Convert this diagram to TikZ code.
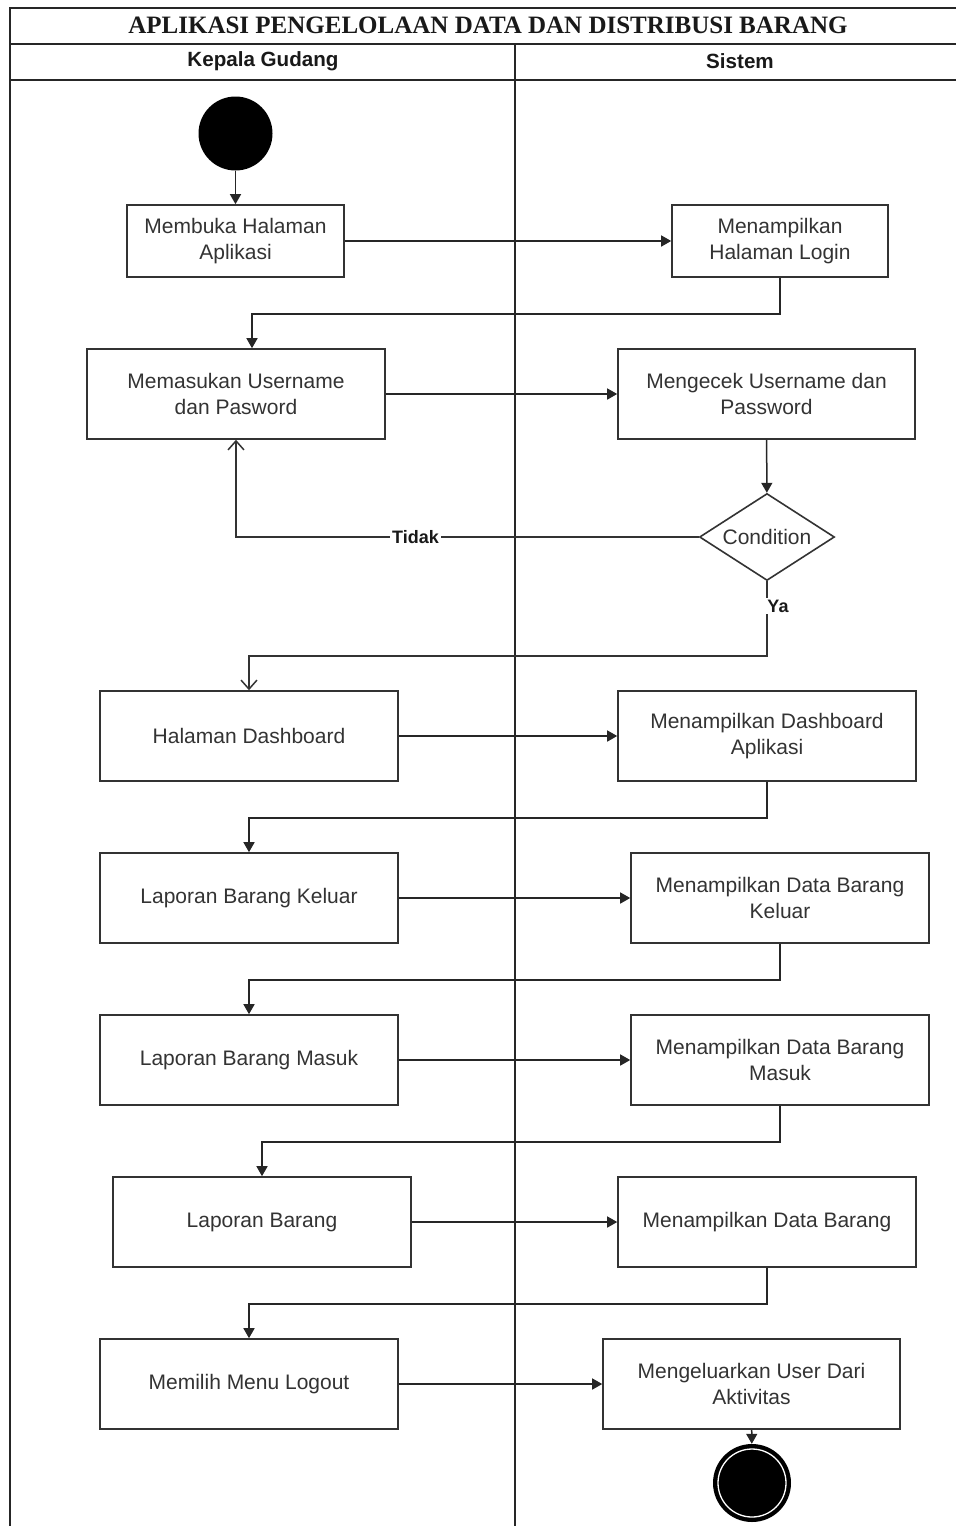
\documentclass[tikz,border=0pt]{standalone}
\usepackage{fontspec}
\setmainfont{Liberation Sans}
\newfontfamily\titlefont{Liberation Serif}
\usetikzlibrary{arrows.meta,shapes.geometric}
\definecolor{boxline}{HTML}{333333}
\definecolor{txt}{HTML}{333333}
\tikzset{
  act/.style={draw=boxline, line width=1.6pt, fill=white, text=txt, minimum height=90pt,
    align=center, font=\fontsize{21}{26}\selectfont, inner sep=0pt},
  flow/.style={line width=1.5pt, draw=black!85, -{Triangle[length=10pt,width=11pt]}},
  openflow/.style={line width=1.5pt, draw=black!80, -{Straight Barb[length=9pt,width=16pt,line width=1.5pt]}},
  lbl/.style={fill=white, text=black!90, font=\bfseries\fontsize{18}{20}\selectfont, inner sep=2pt},
  lane/.style={line width=1.5pt, draw=black!85},
  hdr/.style={font=\bfseries\fontsize{20.6}{22}\selectfont, text=black!90}
}
\begin{document}
\begin{tikzpicture}[x=1pt,y=-1pt]
\useasboundingbox (0,0) rectangle (956,1526);
% swimlanes
\draw[lane] (10,1526) -- (10,8) -- (956,8);
\draw[lane] (10,44) -- (956,44);
\draw[lane] (10,80) -- (956,80);
\draw[lane] (515,44) -- (515,1526);
\node[font=\titlefont\bfseries\fontsize{25}{28}\selectfont, text=black!90] (title) at (488,25) {APLIKASI PENGELOLAAN DATA DAN DISTRIBUSI BARANG};
\node[hdr] (h1) at (263,61) {Kepala Gudang};
\node[hdr] (h2) at (740,61) {Sistem};
% nodes
\node[circle, fill=black, minimum size=74pt, inner sep=0pt] (start) at (235.5,133.5) {};
\node[act, minimum width=217pt, minimum height=72pt] (open) at (235.5,241) {Membuka Halaman\\Aplikasi};
\node[act, minimum width=216pt, minimum height=72pt] (login) at (780,241) {Menampilkan\\Halaman Login};
\node[act, minimum width=298pt] (user) at (236,394) {Memasukan Username\\dan Pasword};
\node[act, minimum width=297pt] (cek) at (766.5,394) {Mengecek Username dan\\Password};
\node[diamond, aspect=1.55, draw=boxline, line width=1.6pt, fill=white, text=txt, minimum width=135pt, minimum height=87pt, inner sep=0pt, font=\fontsize{21}{26}\selectfont] (cond) at (767,537) {Condition};
\node[act, minimum width=298pt] (dash) at (249,736) {Halaman Dashboard};
\node[act, minimum width=298pt] (mdash) at (767,736) {Menampilkan Dashboard\\Aplikasi};
\node[act, minimum width=298pt] (kel) at (249,898) {Laporan Barang Keluar};
\node[act, minimum width=298pt] (mkel) at (780,898) {Menampilkan Data Barang\\Keluar};
\node[act, minimum width=298pt] (mas) at (249,1060) {Laporan Barang Masuk};
\node[act, minimum width=298pt] (mmas) at (780,1060) {Menampilkan Data Barang\\Masuk};
\node[act, minimum width=298pt] (lap) at (262,1222) {Laporan Barang};
\node[act, minimum width=298pt] (mbar) at (767,1222) {Menampilkan Data Barang};
\node[act, minimum width=298pt] (logout) at (249,1384) {Memilih Menu Logout};
\node[act, minimum width=297pt] (keluar) at (751.5,1384) {Mengeluarkan User Dari\\Aktivitas};
\node[circle, fill=black, minimum size=78pt, inner sep=0pt] (end) at (752,1483) {};
\draw[white, line width=1.3pt] (end.center) circle (34pt);
% connectors
\draw[flow] (start) -- (open);
\draw[flow] (open) -- (login);
\draw[flow] (login.south) -- ++(0,36) -| ([xshift=16pt]user.north);
\draw[flow] (user) -- (cek);
\draw[flow] (cek) -- (cond);
\draw[openflow] (cond.west) -| (user.south) node[lbl, pos=0.306] {Tidak};
\draw[openflow] (cond.south) -- ++(0,74.5) -| (dash.north);
\node[lbl] (ya) at (778,606) {Ya};
\draw[flow] (dash) -- (mdash);
\draw[flow] (mdash.south) -- ++(0,36) -| (kel.north);
\draw[flow] (kel) -- (mkel);
\draw[flow] (mkel.south) -- ++(0,36) -| (mas.north);
\draw[flow] (mas) -- (mmas);
\draw[flow] (mmas.south) -- ++(0,36) -| (lap.north);
\draw[flow] (lap) -- (mbar);
\draw[flow] (mbar.south) -- ++(0,36) -| (logout.north);
\draw[flow] (logout) -- (keluar);
\draw[flow] (keluar) -- (end);
\end{tikzpicture}
\end{document}
